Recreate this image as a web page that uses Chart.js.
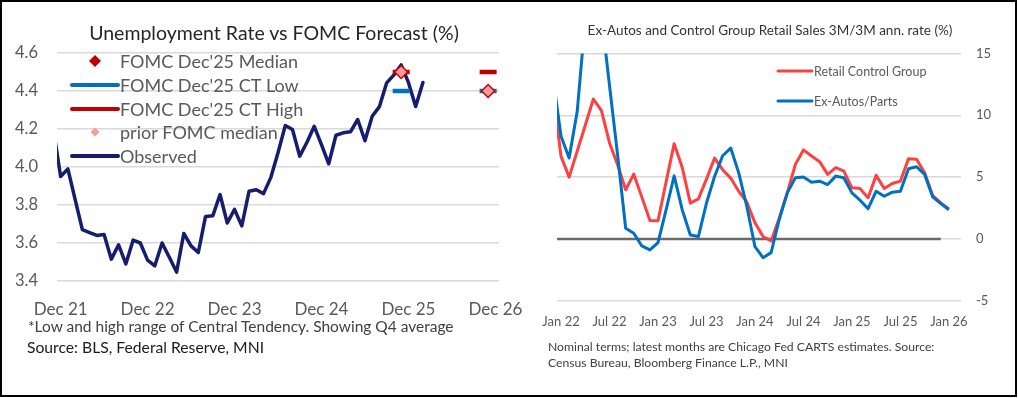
<!DOCTYPE html>
<html><head><meta charset="utf-8">
<script src="https://cdn.jsdelivr.net/npm/chart.js@4.4.1/dist/chart.umd.min.js"></script>
<style>
html,body{margin:0;padding:0;background:#fff;}
body{width:1018px;height:398px;position:relative;overflow:hidden;font-family:Lato,'Open Sans',sans-serif;}
#frame{position:absolute;left:0;top:0;width:1017px;height:397px;border:2px solid #000;box-sizing:border-box;}
canvas{position:absolute;top:0;}
.t{position:absolute;line-height:1;white-space:nowrap;}
</style></head><body>
<div id="frame"></div>
<canvas id="c1" width="530" height="398" style="left:0"></canvas>
<canvas id="c2" width="503" height="398" style="left:510px"></canvas>
<div class="t" style="left:274px;top:23px;font-size:19.5px;color:#262626;transform:translateX(-50%)">Unemployment Rate vs FOMC Forecast (%)</div>
<div class="t" style="left:28px;top:319px;font-size:15.5px;color:#404040;">*Low and high range of Central Tendency. Showing Q4 average</div>
<div class="t" style="left:27px;top:340px;font-size:15.7px;color:#1a1a1a;">Source: BLS, Federal Reserve, MNI</div>
<div class="t" style="left:770px;top:24px;font-size:13.5px;color:#333;transform:translateX(-50%)">Ex-Autos and Control Group Retail Sales 3M/3M ann. rate (%)</div>
<div class="t" style="left:548px;top:341px;font-size:12.2px;color:#404040;">Nominal terms; latest months are Chicago Fed CARTS estimates. Source:</div>
<div class="t" style="left:548px;top:357px;font-size:12.2px;color:#404040;">Census Bureau, Bloomberg Finance L.P., MNI</div>
<script>
// ---------- DATA: left chart (unemployment rate, %) ----------
const ueTickLabels = ['Dec 21','Dec 22','Dec 23','Dec 24','Dec 25','Dec 26'];
const observedStart = 'Nov 21';
const observed = [4.20, 3.95, 3.99, 3.83, 3.67, 3.655, 3.64, 3.645, 3.515, 3.59, 3.49, 3.615,
  3.60, 3.51, 3.48, 3.60, 3.525, 3.447, 3.65, 3.585, 3.55, 3.74, 3.743, 3.855,
  3.705, 3.777, 3.69, 3.872, 3.88, 3.86, 3.944, 4.075, 4.218, 4.197, 4.057, 4.13,
  4.214, 4.118, 4.017, 4.167, 4.18, 4.185, 4.25, 4.138, 4.267, 4.318, 4.443, 4.485,
  4.537, 4.445, 4.318, 4.445];
const fomcPeriods = ['Nov 25','Nov 26'];   // Q4 averages plotted mid-quarter
const fomcMedian = [4.5, 4.4];
const fomcCTLow = [4.4, 4.4];
const fomcCTHigh = [4.5, 4.5];
const priorMedian = [4.5, 4.4];

// ---------- DATA: right chart (retail sales 3M/3M ann. rate, %) ----------
const salesTickLabels = ['Jan 22','Jul 22','Jan 23','Jul 23','Jan 24','Jul 24','Jan 25','Jul 25','Jan 26'];
const salesStart = 'Dec 21';
const controlGroup = [11.8, 6.68, 5.0, 7.1, 9.2, 11.32, 10.38, 7.76, 6.0, 3.97, 5.24, 3.38, 1.49,
  1.46, 4.6, 7.7, 5.78, 2.89, 3.24, 4.84, 6.54, 5.6, 4.92, 3.84, 2.97, 1.3, 0.19,
  -0.16, 1.68, 3.72, 6.03, 7.2, 6.71, 6.25, 5.22, 5.76, 5.49, 4.13, 4.08, 3.32,
  5.14, 4.08, 4.48, 4.67, 6.49, 6.44, 5.35, 3.5, 2.91, 2.42];
const exAutos = [13.1, 8.3, 6.54, 10.3, 17.8, 20.0, 18.1, 12.4, 6.8, 0.86, 0.46, -0.57, -0.89,
  -0.3, 2.35, 5.1, 2.35, 0.32, 0.19, 2.9, 5.05, 6.73, 7.35, 5.32, 2.6, -0.63, -1.52,
  -1.11, 1.55, 3.72, 4.95, 5.0, 4.59, 4.67, 4.4, 5.08, 4.95, 3.72, 3.13, 2.45,
  3.86, 3.45, 3.78, 3.86, 5.68, 5.84, 5.22, 3.4, 2.85, 2.36];
const zeroLineSpan = ['Dec 21','Dec 25'];
const zeroLineValue = 0;

// ---------- helpers ----------
const MON = ['Jan','Feb','Mar','Apr','May','Jun','Jul','Aug','Sep','Oct','Nov','Dec'];
function absMonth(lbl){ const [m,y] = lbl.split(' '); return (2000 + (+y)) * 12 + MON.indexOf(m); }
function idxFrom(base){ const b = absMonth(base); return lbl => absMonth(lbl) - b; }
const ueIdx = idxFrom('Dec 21');
const salesIdx = idxFrom('Jan 22');
function series(start, vals, idxFn){ const s = idxFn(start); return vals.map((v,k)=>({x:s+k, y:v})); }

const FONT = 'Lato';
const GRID = '#d9d9d9';
const TICK = '#595959';
const NAVY = '#161c6e';
const DRED = '#C00000';
const BLUE = '#0070C0';
const PINK = '#FF9999';
const RED2 = '#FF4040';

function legendPlugin(items){
  return { id:'customLegend', afterDatasetsDraw(chart){
    const ctx = chart.ctx; ctx.save();
    items.forEach(it => {
      if (it.kind === 'line'){
        ctx.strokeStyle = it.color; ctx.lineWidth = it.w; ctx.lineCap = 'round';
        ctx.beginPath(); ctx.moveTo(it.x0, it.y); ctx.lineTo(it.x1, it.y); ctx.stroke();
      } else {
        const cx = (it.x0 + it.x1) / 2, r = it.r;
        ctx.fillStyle = it.color; ctx.beginPath();
        ctx.moveTo(cx, it.y - r); ctx.lineTo(cx + r, it.y); ctx.lineTo(cx, it.y + r); ctx.lineTo(cx - r, it.y);
        ctx.closePath(); ctx.fill();
      }
      ctx.fillStyle = it.textColor; ctx.font = it.font; ctx.textBaseline = 'middle'; ctx.textAlign = 'left';
      ctx.fillText(it.text, it.tx, it.y + 1);
    });
    ctx.restore();
  }};
}

// ---------- left chart ----------
const leftDatasets = [
  { label:'prior FOMC median', data: fomcPeriods.map((p,k)=>({x:ueIdx(p), y:priorMedian[k]})), showLine:false,
    pointStyle:'rectRot', pointRadius:5.5, pointBackgroundColor:PINK, pointBorderWidth:0, order:0 },
  { label:"FOMC Dec'25 Median", data: fomcPeriods.map((p,k)=>({x:ueIdx(p), y:fomcMedian[k]})), showLine:false,
    pointStyle:'rectRot', pointRadius:7.5, pointBackgroundColor:DRED, pointBorderWidth:0, order:1 },
  { label:"FOMC Dec'25 CT Low", data: fomcPeriods.map((p,k)=>({x:ueIdx(p), y:fomcCTLow[k]})), showLine:false,
    pointStyle:'line', pointRadius:8.5, pointBorderWidth:4.5, pointBorderColor:BLUE, order:2 },
  { label:"FOMC Dec'25 CT High", data: fomcPeriods.map((p,k)=>({x:ueIdx(p), y:fomcCTHigh[k]})), showLine:false,
    pointStyle:'line', pointRadius:8.5, pointBorderWidth:4.5, pointBorderColor:DRED, order:2 },
  { label:'Observed', data: series(observedStart, observed, ueIdx), borderColor:NAVY, borderWidth:3.5,
    pointRadius:0, tension:0, borderJoinStyle:'round', borderCapStyle:'round', order:3 }
];
const lf = '18px ' + FONT;
const leftLegend = [
  {text:"FOMC Dec'25 Median", kind:'diamond', color:DRED, r:6, x0:72, x1:118, y:61},
  {text:"FOMC Dec'25 CT Low", kind:'line', color:BLUE, w:4, x0:72, x1:118, y:85},
  {text:"FOMC Dec'25 CT High", kind:'line', color:DRED, w:4, x0:72, x1:118, y:109},
  {text:'prior FOMC median', kind:'diamond', color:PINK, r:4.5, x0:72, x1:118, y:132},
  {text:'Observed', kind:'line', color:NAVY, w:4, x0:72, x1:118, y:156}
].map(o => Object.assign(o, {tx:120, font:lf, textColor:'#595959'}));
const ueTickPos = ueTickLabels.map(ueIdx);

new Chart(document.getElementById('c1'), {
  type:'line',
  data:{ datasets: leftDatasets },
  options:{
    responsive:false, animation:false, devicePixelRatio:1, events:[],
    layout:{ padding:{ top:53, right:31, left:0, bottom:0 } },
    plugins:{ legend:{display:false}, tooltip:{enabled:false}, title:{display:false} },
    scales:{
      x:{ type:'linear', min:-0.5, max:60.5,
        afterBuildTicks: s => { s.ticks = ueTickPos.map(v => ({value:v})); },
        afterFit: s => { s.height = 117; s.paddingLeft = 0; s.paddingRight = 0; },
        ticks:{ autoSkip:false, maxRotation:0, padding:10, color:TICK, font:{family:FONT, size:17},
          callback: v => { const k = ueTickPos.indexOf(v); return k >= 0 ? ueTickLabels[k] : ''; } },
        grid:{ display:false }, border:{ display:false } },
      y:{ min:3.4, max:4.6,
        afterFit: s => { s.width = 57; s.paddingTop = 0; s.paddingBottom = 0; },
        ticks:{ stepSize:0.2, padding:19, color:TICK, font:{family:FONT, size:16.5}, callback: v => (+v).toFixed(1) },
        grid:{ color:GRID, lineWidth:1.5, drawTicks:false }, border:{ display:false } }
    }
  },
  plugins:[ legendPlugin(leftLegend) ]
});

// ---------- right chart ----------
const salesTickPos = salesTickLabels.map(salesIdx);
const rightDatasets = [
  { label:'Ex-Autos/Parts', data: series(salesStart, exAutos, salesIdx), borderColor:BLUE, borderWidth:3,
    pointRadius:0, tension:0, borderJoinStyle:'round', order:0 },
  { label:'Retail Control Group', data: series(salesStart, controlGroup, salesIdx), borderColor:RED2, borderWidth:3,
    pointRadius:0, tension:0, borderJoinStyle:'round', order:1 },
  { label:'zero', data: zeroLineSpan.map(p => ({x:salesIdx(p), y:zeroLineValue})), borderColor:'#6a6a6a', borderWidth:2.5,
    pointRadius:0, order:2 }
];
const rf = '12.5px ' + FONT;
const rightLegend = [
  {text:'Retail Control Group', kind:'line', color:RED2, w:3, x0:268, x1:302, y:71},
  {text:'Ex-Autos/Parts', kind:'line', color:BLUE, w:3, x0:268, x1:302, y:101}
].map(o => Object.assign(o, {tx:304, font:rf, textColor:'#595959'}));

new Chart(document.getElementById('c2'), {
  type:'line',
  data:{ datasets: rightDatasets },
  options:{
    responsive:false, animation:false, devicePixelRatio:1, events:[],
    layout:{ padding:{ top:53.5, right:0, left:47, bottom:0 } },
    plugins:{ legend:{display:false}, tooltip:{enabled:false}, title:{display:false} },
    scales:{
      x:{ type:'linear', min:-0.5, max:49.5,
        afterBuildTicks: s => { s.ticks = salesTickPos.map(v => ({value:v})); },
        afterFit: s => { s.height = 97.3; s.paddingLeft = 0; s.paddingRight = 0; },
        ticks:{ autoSkip:false, maxRotation:0, padding:5.5, color:TICK, font:{family:FONT, size:13},
          callback: v => { const k = salesTickPos.indexOf(v); return k >= 0 ? salesTickLabels[k] : ''; } },
        grid:{ display:false }, border:{ display:false } },
      y:{ position:'right', min:-5, max:15,
        afterFit: s => { s.width = 52; s.paddingTop = 0; s.paddingBottom = 0; },
        ticks:{ stepSize:5, padding:15, color:TICK, font:{family:FONT, size:13} },
        grid:{ color:GRID, lineWidth:1.5, drawTicks:false }, border:{ display:false } }
    }
  },
  plugins:[ legendPlugin(rightLegend) ]
});
</script>
</body></html>
